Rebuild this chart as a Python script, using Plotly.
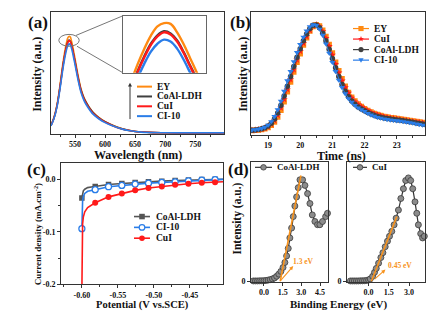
import math
import plotly.graph_objects as go

W, H = 435, 319
FONT = "Liberation Serif"
TXT = "#111111"

ORANGE = "#FF8A12"
GRAY = "#404040"
RED = "#FF1A1A"
BLUE = "#2A7DE8"
FIT = "#F7931E"

# ---------------- (a) PL spectra ----------------
wavelength = [510, 515, 520, 525, 528, 530, 532, 534, 536, 538, 540, 542, 544, 546, 548, 550, 552, 555,
              560, 565, 570, 575, 580, 590, 600, 610, 620, 630, 640, 650, 660, 680, 700, 730, 760, 800]
pl_EY = [0.072, 0.136, 0.240, 0.400, 0.512, 0.584, 0.648, 0.704, 0.752, 0.786, 0.798, 0.795, 0.764, 0.720,
         0.668, 0.616, 0.560, 0.480, 0.368, 0.296, 0.248, 0.208, 0.176, 0.132, 0.100, 0.076, 0.056, 0.040,
         0.029, 0.021, 0.015, 0.010, 0.009, 0.008, 0.008, 0.008]
pl_CoAl = [0.069, 0.131, 0.230, 0.384, 0.492, 0.561, 0.622, 0.676, 0.722, 0.753, 0.768, 0.760, 0.734, 0.691,
           0.641, 0.593, 0.540, 0.465, 0.360, 0.292, 0.246, 0.207, 0.175, 0.131, 0.099, 0.075, 0.055, 0.039,
           0.028, 0.020, 0.015, 0.010, 0.009, 0.008, 0.008, 0.008]
pl_CuI = [0.069, 0.130, 0.229, 0.382, 0.489, 0.558, 0.619, 0.672, 0.718, 0.749, 0.764, 0.756, 0.730, 0.688,
          0.638, 0.588, 0.535, 0.458, 0.351, 0.283, 0.237, 0.199, 0.168, 0.126, 0.096, 0.073, 0.053, 0.038,
          0.028, 0.020, 0.015, 0.010, 0.009, 0.008, 0.008, 0.008]
pl_CI10 = [0.066, 0.125, 0.221, 0.369, 0.472, 0.538, 0.597, 0.649, 0.693, 0.722, 0.737, 0.730, 0.704, 0.663,
           0.615, 0.567, 0.516, 0.442, 0.339, 0.273, 0.228, 0.192, 0.162, 0.122, 0.092, 0.070, 0.052, 0.037,
           0.027, 0.019, 0.014, 0.010, 0.009, 0.008, 0.008, 0.008]
pl_labels = ["EY", "CoAl-LDH", "CuI", "CI-10"]

# ---------------- (b) TRPL ----------------
time_ns = [18.5, 18.6, 18.7, 18.8, 18.9, 19.0, 19.1, 19.2, 19.3, 19.4, 19.5, 19.6, 19.7, 19.8, 19.9,
           20.0, 20.1, 20.2, 20.3, 20.4, 20.5, 20.6, 20.7, 20.8, 20.9, 21.0, 21.1, 21.2, 21.3, 21.4,
           21.5, 21.6, 21.7, 21.8, 21.9, 22.0, 22.1, 22.2, 22.3, 22.4, 22.5, 22.6, 22.7, 22.8, 22.9,
           23.0, 23.1, 23.2, 23.3, 23.4, 23.5, 23.6, 23.7, 23.8, 23.9]
tr_EY = [0.035, 0.037, 0.040, 0.044, 0.050, 0.060, 0.078, 0.105, 0.145, 0.200,
         0.270, 0.350, 0.430, 0.510, 0.590, 0.660, 0.730, 0.790, 0.845, 0.880,
         0.895, 0.885, 0.850, 0.800, 0.735, 0.665, 0.590, 0.520, 0.455, 0.395,
         0.345, 0.305, 0.275, 0.250, 0.230, 0.213, 0.198, 0.185, 0.174, 0.165,
         0.157, 0.150, 0.145, 0.140, 0.136, 0.132, 0.128, 0.124, 0.120, 0.116,
         0.112, 0.108, 0.104, 0.100, 0.097]
tr_CuI = [0.037, 0.039, 0.042, 0.047, 0.054, 0.066, 0.086, 0.116, 0.160, 0.220,
          0.290, 0.370, 0.450, 0.530, 0.610, 0.680, 0.745, 0.800, 0.850, 0.885,
          0.895, 0.880, 0.840, 0.785, 0.720, 0.650, 0.575, 0.505, 0.440, 0.385,
          0.340, 0.300, 0.270, 0.247, 0.228, 0.211, 0.196, 0.183, 0.172, 0.163,
          0.155, 0.148, 0.143, 0.138, 0.134, 0.130, 0.126, 0.122, 0.118, 0.114,
          0.110, 0.106, 0.102, 0.098, 0.095]
tr_CoAl = [0.038, 0.040, 0.044, 0.049, 0.057, 0.071, 0.094, 0.128, 0.178, 0.240,
           0.315, 0.395, 0.475, 0.555, 0.630, 0.700, 0.765, 0.820, 0.865, 0.890,
           0.893, 0.870, 0.825, 0.765, 0.695, 0.620, 0.545, 0.475, 0.410, 0.355,
           0.310, 0.275, 0.248, 0.227, 0.210, 0.195, 0.181, 0.169, 0.159, 0.150,
           0.143, 0.137, 0.132, 0.128, 0.124, 0.121, 0.118, 0.114, 0.110, 0.106,
           0.102, 0.097, 0.092, 0.088, 0.084]
tr_CI10 = [0.040, 0.042, 0.046, 0.052, 0.062, 0.080, 0.108, 0.150, 0.205, 0.275,
           0.355, 0.440, 0.515, 0.595, 0.670, 0.735, 0.795, 0.845, 0.880, 0.895,
           0.890, 0.860, 0.810, 0.740, 0.665, 0.590, 0.515, 0.445, 0.385, 0.335,
           0.295, 0.265, 0.240, 0.220, 0.205, 0.190, 0.175, 0.162, 0.152, 0.143,
           0.136, 0.130, 0.125, 0.121, 0.118, 0.115, 0.112, 0.108, 0.104, 0.100,
           0.096, 0.090, 0.085, 0.080, 0.076]

# ---------------- (c) LSV ----------------
lsv_CoAl_V = [-0.600, -0.5992, -0.598, -0.596, -0.592, -0.587, -0.5815, -0.563, -0.5445, -0.526,
              -0.5075, -0.489, -0.4705, -0.452, -0.4335, -0.415, -0.404]
lsv_CoAl_I = [-0.0355, -0.027, -0.022, -0.019, -0.016, -0.0148, -0.0137, -0.0100, -0.0081, -0.0062,
              -0.0050, -0.0037, -0.0025, -0.0015, -0.0008, -0.0002, 0.0]
lsv_CI10_V = [-0.600, -0.5995, -0.599, -0.598, -0.596, -0.592, -0.587, -0.5815, -0.563, -0.5445, -0.526,
              -0.5075, -0.489, -0.4705, -0.452, -0.4335, -0.415, -0.404]
lsv_CI10_I = [-0.094, -0.060, -0.042, -0.033, -0.027, -0.023, -0.021, -0.0199, -0.0143, -0.0118, -0.0093,
              -0.0075, -0.0062, -0.0050, -0.0031, -0.0019, -0.0008, -0.0003]
lsv_CuI_V = [-0.6000, -0.5996, -0.599, -0.598, -0.596, -0.592, -0.587, -0.5815, -0.563, -0.5445, -0.526,
             -0.5075, -0.489, -0.4705, -0.452, -0.4335, -0.415, -0.404]
lsv_CuI_I = [-0.210, -0.110, -0.085, -0.072, -0.062, -0.054, -0.049, -0.0449, -0.0336, -0.0274, -0.0212,
             -0.0168, -0.0137, -0.0106, -0.0087, -0.0069, -0.0056, -0.0050]
# marker positions (subset of the measured points)
lsv_mark_V = [-0.600, -0.5815, -0.563, -0.5445, -0.526, -0.5075, -0.489, -0.4705, -0.452, -0.4335, -0.415]
lsv_mark_CoAl = [-0.0355, -0.0137, -0.0100, -0.0081, -0.0062, -0.0050, -0.0037, -0.0025, -0.0015, -0.0008, -0.0002]
lsv_mark_CI10 = [-0.094, -0.0199, -0.0143, -0.0118, -0.0093, -0.0075, -0.0062, -0.0050, -0.0031, -0.0019, -0.0008]
lsv_mark_CuI_V = [-0.5815, -0.563, -0.5445, -0.526, -0.5075, -0.489, -0.4705, -0.452, -0.4335, -0.415]
lsv_mark_CuI = [-0.0449, -0.0336, -0.0274, -0.0212, -0.0168, -0.0137, -0.0106, -0.0087, -0.0069, -0.0056]

# ---------------- (d) VB-XPS ----------------
be_CoAl = [-0.85, -0.68, -0.51, -0.34, -0.17, 0.0, 0.17, 0.34, 0.51, 0.68, 0.85, 1.02, 1.19, 1.36, 1.53, 1.68,
           1.82, 1.95, 2.08, 2.22, 2.35, 2.48, 2.62, 2.75, 2.89, 3.10, 3.29, 3.50, 3.69, 3.88, 4.09, 4.30,
           4.49, 4.70, 4.95, 5.10]
xps_CoAl = [0.005, 0.005, 0.005, 0.006, 0.006, 0.007, 0.009, 0.012, 0.016, 0.022, 0.030, 0.044, 0.062, 0.085,
            0.118, 0.160, 0.215, 0.278, 0.366, 0.449, 0.545, 0.634, 0.710, 0.788, 0.854, 0.854, 0.807, 0.738,
            0.655, 0.559, 0.504, 0.477, 0.477, 0.504, 0.545, 0.573]
be_CuI = [-1.35, -1.20, -1.05, -0.90, -0.75, -0.60, -0.45, -0.30, -0.15, 0.0, 0.12, 0.30, 0.44, 0.57, 0.74,
          0.91, 1.06, 1.23, 1.40, 1.55, 1.72, 1.89, 2.04, 2.21, 2.39, 2.58, 2.75, 2.95, 3.12, 3.27, 3.44,
          3.57, 3.69, 3.86, 4.00, 4.13]
xps_CuI = [0.005, 0.005, 0.005, 0.005, 0.005, 0.006, 0.006, 0.007, 0.009, 0.013, 0.022, 0.044, 0.077, 0.110,
           0.154, 0.201, 0.242, 0.292, 0.339, 0.380, 0.421, 0.476, 0.532, 0.600, 0.697, 0.779, 0.848, 0.870,
           0.848, 0.779, 0.669, 0.573, 0.476, 0.402, 0.366, 0.380]
fit_CoAl_x = [1.3, 2.97]
fit_CoAl_y = [0.0, 0.89]
fit_CuI_x = [0.2, 2.09]
fit_CuI_y = [0.0, 0.545]
gap_labels = ["1.3 eV", "0.45 eV"]


def px(x):
    return x / W


def py(y):
    return 1 - y / H


# pixel frames of the panels: (left, right, top, bottom) and data ranges
FR = {
    "a": (51, 224, 12, 136, [510, 798], [0, 1]),
    "ins": (123, 206, 16, 74, [527.5, 552.8], [0.615, 0.825]),
    "b": (251, 425, 12, 137, [18.47, 23.88], [0, 1]),
    "c": (61, 223, 166, 289, [-0.629, -0.404], [-0.2, 0.03]),
    "d1": (251, 328, 165, 286, [-1.04, 5.14], [0, 1]),
    "d2": (347, 425, 165, 286, [-1.6, 4.18], [0, 1]),
}


def to_px(key, xv, yv):
    l, r, t, b, xr, yr = FR[key]
    return (l + (xv - xr[0]) / (xr[1] - xr[0]) * (r - l),
            b - (yv - yr[0]) / (yr[1] - yr[0]) * (b - t))


fig = go.Figure()

# (a)
a_colors = [ORANGE, GRAY, RED, BLUE]
for ys, c, n in zip([pl_EY, pl_CoAl, pl_CuI, pl_CI10], a_colors, pl_labels):
    fig.add_trace(go.Scatter(x=wavelength, y=ys, mode="lines", line=dict(color=c, width=1.6, shape="spline"),
                             name=n, showlegend=False, xaxis="x", yaxis="y"))
for ys, c, n in zip([pl_EY, pl_CoAl, pl_CuI, pl_CI10], a_colors, pl_labels):
    fig.add_trace(go.Scatter(x=wavelength, y=ys, mode="lines", line=dict(color=c, width=2.4, shape="spline"),
                             name=n, showlegend=False, xaxis="x2", yaxis="y2"))

# (b)
b_sets = [(tr_EY, ORANGE, "square", "EY"), (tr_CuI, RED, "star", "CuI"),
          (tr_CoAl, GRAY, "circle", "CoAl-LDH"), (tr_CI10, BLUE, "triangle-down", "CI-10")]
for ys, c, sym, n in b_sets:
    fig.add_trace(go.Scatter(x=time_ns, y=ys, mode="lines+markers", line=dict(color=c, width=1),
                             marker=dict(symbol=sym, size=5.5, color=c, line=dict(width=0)),
                             name=n, showlegend=False, xaxis="x3", yaxis="y3"))

# (c)
fig.add_trace(go.Scatter(x=lsv_CoAl_V, y=lsv_CoAl_I, mode="lines", line=dict(color="#555555", width=1.6),
                         showlegend=False, xaxis="x4", yaxis="y4"))
fig.add_trace(go.Scatter(x=lsv_mark_V, y=lsv_mark_CoAl, mode="markers",
                         marker=dict(symbol="square", size=5.5, color="#555555"),
                         showlegend=False, xaxis="x4", yaxis="y4"))
fig.add_trace(go.Scatter(x=lsv_CI10_V, y=lsv_CI10_I, mode="lines", line=dict(color=BLUE, width=1.6),
                         showlegend=False, xaxis="x4", yaxis="y4"))
fig.add_trace(go.Scatter(x=lsv_mark_V, y=lsv_mark_CI10, mode="markers",
                         marker=dict(symbol="circle", size=6, color="white", line=dict(color=BLUE, width=1.3)),
                         showlegend=False, xaxis="x4", yaxis="y4"))
fig.add_trace(go.Scatter(x=lsv_CuI_V, y=lsv_CuI_I, mode="lines", line=dict(color=RED, width=1.6),
                         showlegend=False, xaxis="x4", yaxis="y4"))
fig.add_trace(go.Scatter(x=lsv_mark_CuI_V, y=lsv_mark_CuI, mode="markers",
                         marker=dict(symbol="circle", size=6, color=RED),
                         showlegend=False, xaxis="x4", yaxis="y4"))

# (d)
for xs, ys, ax_, ay_, fx, fy in [(be_CoAl, xps_CoAl, "x5", "y5", fit_CoAl_x, fit_CoAl_y),
                                 (be_CuI, xps_CuI, "x6", "y6", fit_CuI_x, fit_CuI_y)]:
    fig.add_trace(go.Scatter(x=xs, y=ys, mode="lines+markers", line=dict(color="#333333", width=1.2),
                             marker=dict(symbol="circle", size=6, color="#8c8c8c", line=dict(color="#3a3a3a", width=0.8)),
                             cliponaxis=False, showlegend=False, xaxis=ax_, yaxis=ay_))
    fig.add_trace(go.Scatter(x=fx, y=fy, mode="lines", line=dict(color=FIT, width=1.6),
                             showlegend=False, xaxis=ax_, yaxis=ay_))


def axis(anchor, **kw):
    d = dict(anchor=anchor, showline=True, linecolor="#333333", linewidth=1,
             mirror=True, ticks="outside", ticklen=3, tickwidth=1, tickcolor="#333333",
             showgrid=False, zeroline=False,
             tickfont=dict(family=FONT, size=8, color=TXT, weight="bold"))
    d.update(kw)
    return d


def xax(key, anchor, **kw):
    l, r, t, b, xr, yr = FR[key]
    return axis(anchor, domain=[px(l), px(r)], range=xr, **kw)


def yax(key, anchor, **kw):
    l, r, t, b, xr, yr = FR[key]
    return axis(anchor, domain=[py(b), py(t)], range=yr, **kw)


noticks = dict(showticklabels=False, ticks="")
fig.update_layout(
    xaxis=xax("a", "y", tickvals=[550, 600, 650, 700, 750],
              minor=dict(ticks="outside", ticklen=2, tickvals=[525, 575, 625, 675, 725, 775])),
    yaxis=yax("a", "x", **noticks),
    xaxis2=xax("ins", "y2", linecolor="#666666", **noticks),
    yaxis2=yax("ins", "x2", linecolor="#666666", **noticks),
    xaxis3=xax("b", "y3", tickvals=[19, 20, 21, 22, 23],
               minor=dict(ticks="outside", ticklen=2, tickvals=[18.5, 19.5, 20.5, 21.5, 22.5, 23.5])),
    yaxis3=yax("b", "x3", **noticks),
    xaxis4=xax("c", "y4", tickvals=[-0.6, -0.55, -0.5, -0.45],
               ticktext=["-0.60", "-0.55", "-0.50", "-0.45"],
               minor=dict(ticks="outside", ticklen=2, tickvals=[-0.625, -0.575, -0.525, -0.475, -0.425])),
    yaxis4=yax("c", "x4", tickvals=[0, -0.1, -0.2], ticktext=["0.0", "-0.1", "-0.2"],
               minor=dict(ticks="outside", ticklen=2, tickvals=[-0.05, -0.15])),
    xaxis5=xax("d1", "y5", tickvals=[0, 1.5, 3, 4.5], ticktext=["0.0", "1.5", "3.0", "4.5"]),
    yaxis5=yax("d1", "x5", tickvals=[0], ticktext=["0"]),
    xaxis6=xax("d2", "y6", tickvals=[0, 1.5, 3], ticktext=["0.0", "1.5", "3.0"]),
    yaxis6=yax("d2", "x6", tickvals=[0], ticktext=["0"]),
)

ann = []
shapes = []


def text(x, y, s, size, angle=0, anchor="center", color=TXT):
    ann.append(dict(x=px(x), y=py(y), xref="paper", yref="paper", text=s, showarrow=False, textangle=angle,
                    xanchor=anchor, yanchor="middle", font=dict(family=FONT, size=size, color=color, weight="bold")))


def seg(x0, y0, x1, y1, color, width):
    shapes.append(dict(type="line", xref="paper", yref="paper", x0=px(x0), x1=px(x1), y0=py(y0), y1=py(y1),
                       line=dict(color=color, width=width)))


def arrow(x0, y0, x1, y1, color, width, head=4.0):
    # line from tail (x0,y0) to head (x1,y1), pixel coordinates
    ang = math.atan2(y1 - y0, x1 - x0)
    seg(x0, y0, x1 - head * 0.7 * math.cos(ang), y1 - head * 0.7 * math.sin(ang), color, width)
    pts = [(x1, y1),
           (x1 - head * math.cos(ang) + head * 0.5 * math.sin(ang), y1 - head * math.sin(ang) - head * 0.5 * math.cos(ang)),
           (x1 - head * math.cos(ang) - head * 0.5 * math.sin(ang), y1 - head * math.sin(ang) + head * 0.5 * math.cos(ang))]
    path = "M " + " L ".join(f"{px(a):.5f},{py(b):.5f}" for a, b in pts) + " Z"
    shapes.append(dict(type="path", xref="paper", yref="paper", path=path, fillcolor=color, line=dict(width=0)))


def marker_shape(cx, cy, sym, r, color, outline=None, lw=0):
    line = dict(color=outline or color, width=lw if outline else 0)
    if sym == "square":
        shapes.append(dict(type="rect", xref="paper", yref="paper", x0=px(cx - r), x1=px(cx + r),
                           y0=py(cy + r), y1=py(cy - r), fillcolor=color, line=line))
    elif sym == "circle":
        shapes.append(dict(type="circle", xref="paper", yref="paper", x0=px(cx - r), x1=px(cx + r),
                           y0=py(cy + r), y1=py(cy - r), fillcolor=color, line=line))
    else:
        if sym == "triangle-down":
            pts = [(cx - r, cy - r * 0.7), (cx + r, cy - r * 0.7), (cx, cy + r)]
        else:  # star
            pts = []
            for k in range(10):
                ang = -math.pi / 2 + k * math.pi / 5
                rr = r * 1.2 if k % 2 == 0 else r * 0.5
                pts.append((cx + rr * math.cos(ang), cy + rr * math.sin(ang)))
        path = "M " + " L ".join(f"{px(a):.5f},{py(b):.5f}" for a, b in pts) + " Z"
        shapes.append(dict(type="path", xref="paper", yref="paper", path=path, fillcolor=color, line=line))


# panel letters
text(38, 23, "(a)", 17)
text(240, 23, "(b)", 17)
text(36, 172, "(c)", 17)
text(238, 172, "(d)", 17)
# axis titles
text(138, 157.5, "Wavelength (nm)", 12)
text(37, 76, "Intensity (a.u.)", 12, -90)
text(341, 158, "Time (ns)", 12)
text(243, 76, "Intensity (a.u.)", 12, -90)
text(142, 309.5, "Potential (V vs.SCE)", 10.5)
text(38, 238, "Current density (mA.cm<sup>-2</sup>)", 9, -90)
text(339, 309, "Binding Energy (eV)", 11)
text(238, 222, "Intensity (a.u.)", 11.5, -90)

# legend (a)
for i, (n, c) in enumerate(zip(pl_labels, a_colors)):
    yy = 88 + i * 10
    seg(137, yy, 152, yy, c, 2)
    text(155, yy, n, 9.5, anchor="left")
arrow(130, 121, 130, 84, "#333333", 1, 4)

# legend (b)
for i, (ys, c, sym, n) in enumerate(b_sets):
    yy = 29 + i * 10.7
    seg(353, yy, 369, yy, c, 1.2)
    marker_shape(361, yy, sym, 2.6, c)
    text(372, yy, n, 9.5, anchor="left")

# legend (c)
c_leg = [("CoAl-LDH", "#555555", "square", "#555555", None), ("CI-10", BLUE, "circle", "white", BLUE),
         ("CuI", RED, "circle", RED, None)]
for i, (n, c, sym, fill, ol) in enumerate(c_leg):
    yy = 220 + i * 11
    seg(134, yy, 150, yy, c, 1.6)
    marker_shape(142, yy, sym, 2.8, fill, ol, 1.2)
    text(154, yy, n, 9.5, anchor="left")

# legend (d)
for x0, x1, n in [(255, 272, "CoAl-LDH"), (353, 367, "CuI")]:
    seg(x0, 170, x1, 170, "#333333", 1.2)
    marker_shape((x0 + x1) / 2, 170, "circle", 2.8, "#8c8c8c", "#3a3a3a", 0.8)
    text(x1 + 2.5, 170, n, 9, anchor="left")

# gap arrows (d)
for key, xr, yr, tail, head, lab, lx, ly in [("d1", "x5", "y5", (1.35, 0.01), (2.35, 0.13), gap_labels[0], 3.2, 0.165),
                                              ("d2", "x6", "y6", (0.45, 0.02), (1.25, 0.10), gap_labels[1], 2.3, 0.135)]:
    t0 = to_px(key, *tail)
    h0 = to_px(key, *head)
    arrow(t0[0], t0[1], h0[0], h0[1], FIT, 1.1, 4)
    ann.append(dict(x=lx, y=ly, xref=xr, yref=yr, text=lab, showarrow=False,
                    font=dict(family=FONT, size=7.5, color=FIT, weight="bold")))

# zoom ellipse and connectors (a)
shapes.append(dict(type="circle", xref="x", yref="y", x0=523, x1=557, y0=0.718, y1=0.815,
                   line=dict(color="#777777", width=1)))
seg(76, 36, 123, 16, "#777777", 1)
seg(77, 47, 123, 74, "#777777", 1)

fig.update_layout(width=W, height=H, autosize=False, margin=dict(l=0, r=0, t=0, b=0),
                  paper_bgcolor="white", plot_bgcolor="white", showlegend=False,
                  annotations=ann, shapes=shapes, font=dict(family=FONT, color=TXT))

fig.write_html("out.html", config={"displayModeBar": False},
               post_script="document.body.style.margin='0';document.body.style.padding='0';")
